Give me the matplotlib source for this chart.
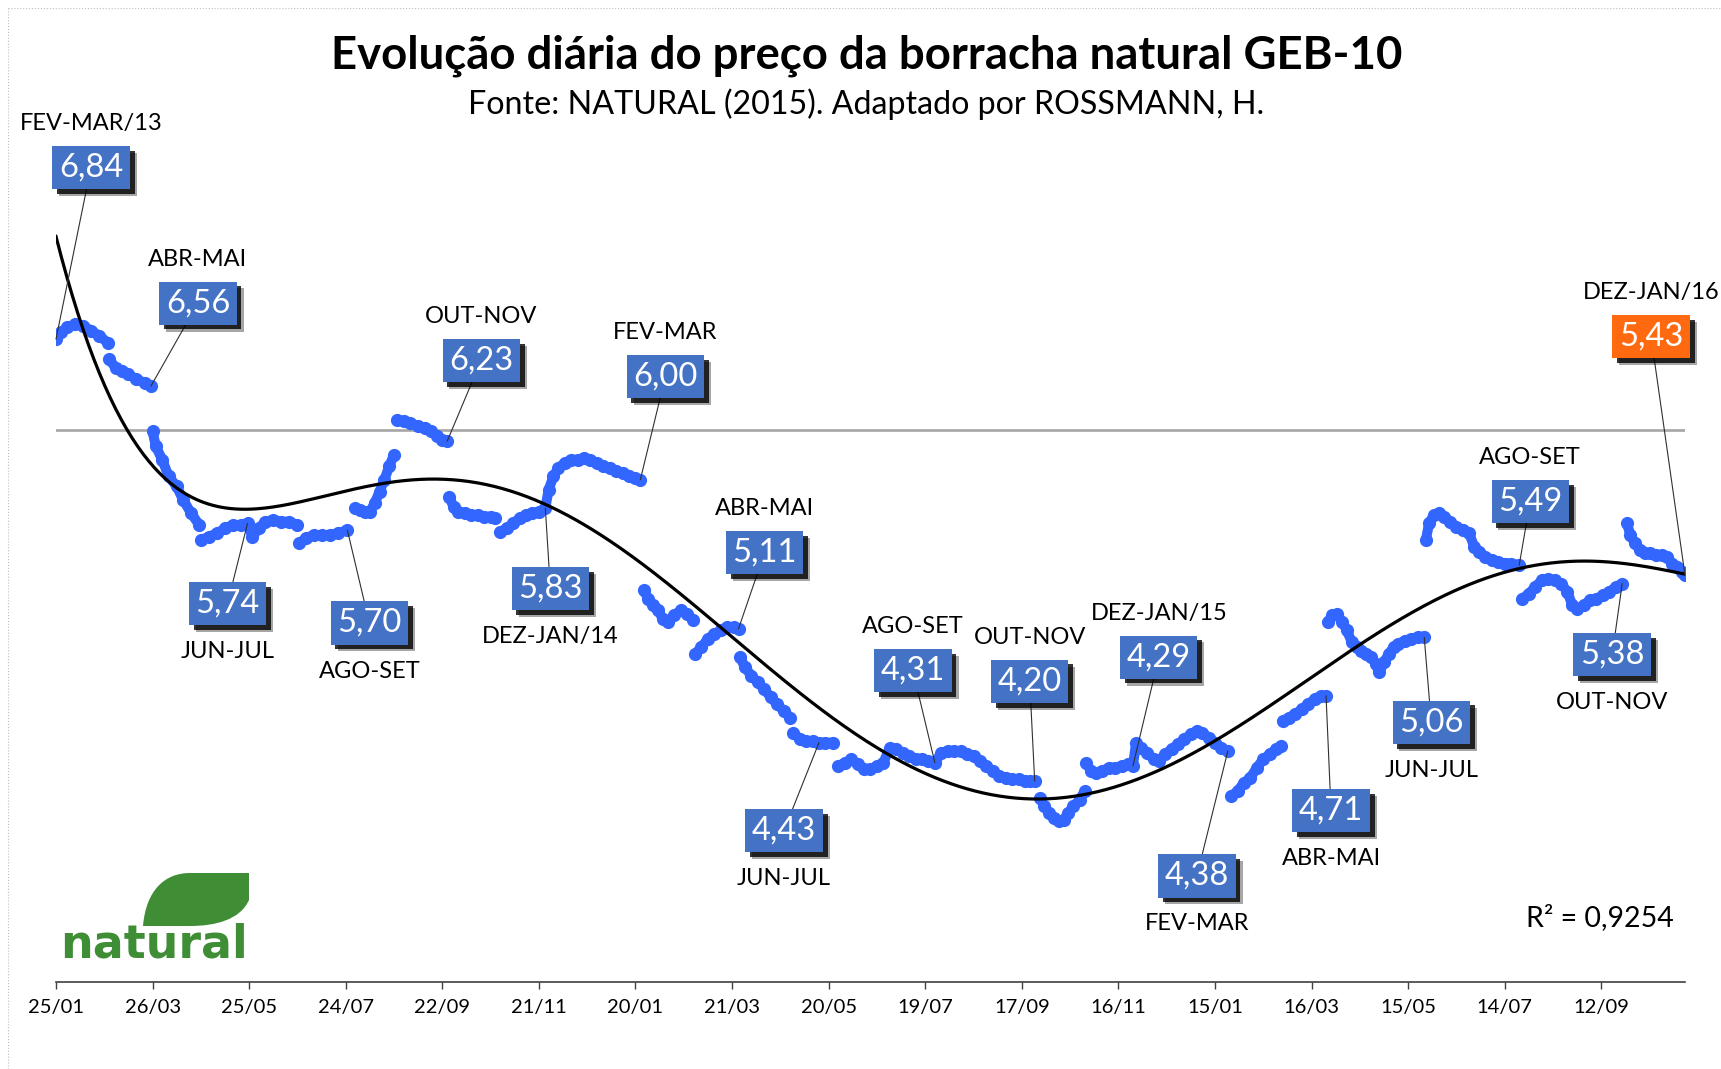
import numpy as np
import matplotlib
matplotlib.use("Agg")
import matplotlib.pyplot as plt
import matplotlib.patheffects as pe
from matplotlib.path import Path
from matplotlib.patches import PathPatch
from matplotlib.lines import Line2D
from matplotlib.ticker import FuncFormatter
import pandas as pd

plt.rcParams['font.family'] = ['Lato', 'DejaVu Sans']

nan = np.nan

# ================= DADOS =================
inicio = pd.Timestamp("2013-01-25")

# dias corridos desde 25/01/2013 (nan separa os trechos de cada contrato)
dias = [0, 3, 7, 12, 17, 22, 27, 32, nan,
        33, 37, 41, 45, 50, 55, 59, nan,
        60, 62, 66, 70, 75, 79, 84, 89, nan,
        90, 95, 100, 105, 110, 115, 119, 122, 126, 130, 135, 140, 145, 150, nan,
        151, 155, 160, 165, 170, 175, 181, nan,
        186, 189, 192, 195, 198, 201, 204, 207, 210, nan,
        212, 216, 220, 225, 229, 233, 237, 240, 243, nan,
        244, 247, 250, 254, 258, 262, 266, 270, 273, nan,
        276, 280, 284, 288, 292, 296, 300, 304, 306, 309, 312, 316, 320, 324,
        328, 332, 336, 340, 344, 348, 352, 356, 360, 363, nan,
        365, 368, 371, 374, 377, 380, 384, 388, 392, 396, nan,
        397, 401, 405, 409, 413, 417, 421, 424, nan,
        425, 428, 432, 436, 440, 444, 448, 452, 456, nan,
        458, 462, 466, 470, 474, 478, 483, nan,
        486, 490, 494, 498, 502, 506, 510, 514, 518, 522, 526, 530, 534, 538,
        542, 546, 550, 554, 558, 562, 566, 570, 574, 578, 582, 586, 590, 594,
        598, 602, 605, 608, nan,
        611, 614, 617, 620, 623, 626, 629, 632, 636, 639, nan,
        640, 643, 646, 650, 654, 658, 662, 666, 669, 671, 674, 678, 682, 685,
        689, 693, 697, 701, 705, 709, 712, 716, 720, 724, 728, nan,
        730, 734, 738, 742, 746, 750, 754, 758, 761, nan,
        762, 766, 770, 774, 778, 782, 786, 789, nan,
        790, 793, 796, 799, 802, 805, 808, 811, 814, 817, 820, 822, 825, 828,
        831, 834, 838, 842, 846, 850, nan,
        851, 853, 856, 859, 862, 866, 870, 874, 878, 881, 884, 888, 892, 896,
        900, 904, 909, nan,
        911, 915, 919, 923, 927, 931, 935, 939, 942, 945, 949, 953, 957, 961,
        965, 969, 973, nan,
        976, 978, 981, 984, 987, 990, 994, 998, 1001, 1004, 1007, 1010, 1012]

precos = [6.84, 6.88, 6.91, 6.93, 6.92, 6.89, 6.86, 6.82, nan,
          6.72, 6.67, 6.65, 6.63, 6.60, 6.58, 6.56, nan,
          6.29, 6.20, 6.12, 6.02, 5.96, 5.88, 5.80, 5.73, nan,
          5.64, 5.66, 5.68, 5.71, 5.73, 5.73, 5.74, 5.66, 5.71, 5.75, 5.76, 5.75, 5.75, 5.73, nan,
          5.62, 5.65, 5.67, 5.67, 5.67, 5.68, 5.70, nan,
          5.83, 5.82, 5.81, 5.81, 5.86, 5.93, 6.00, 6.08, 6.15, nan,
          6.36, 6.35, 6.34, 6.32, 6.31, 6.29, 6.26, 6.24, 6.23, nan,
          5.90, 5.84, 5.81, 5.80, 5.79, 5.79, 5.78, 5.78, 5.77, nan,
          5.69, 5.71, 5.74, 5.77, 5.79, 5.80, 5.81, 5.83, 5.94, 6.02, 6.07, 6.10, 6.12, 6.12,
          6.13, 6.12, 6.10, 6.08, 6.07, 6.05, 6.04, 6.02, 6.01, 6.00, nan,
          5.34, 5.29, 5.25, 5.22, 5.17, 5.15, 5.19, 5.22, 5.20, 5.16, nan,
          4.96, 5.00, 5.05, 5.08, 5.10, 5.12, 5.12, 5.11, nan,
          4.94, 4.88, 4.83, 4.79, 4.75, 4.70, 4.66, 4.62, 4.58, nan,
          4.49, 4.45, 4.44, 4.44, 4.43, 4.43, 4.43, nan,
          4.29, 4.31, 4.33, 4.30, 4.27, 4.27, 4.29, 4.31, 4.40, 4.39, 4.37, 4.35, 4.33, 4.33,
          4.32, 4.31, 4.37, 4.38, 4.38, 4.38, 4.36, 4.35, 4.32, 4.29, 4.26, 4.23, 4.22, 4.21,
          4.21, 4.20, 4.20, 4.20, nan,
          4.10, 4.05, 4.01, 3.98, 3.96, 3.97, 4.01, 4.05, 4.09, 4.14, nan,
          4.31, 4.26, 4.25, 4.26, 4.28, 4.28, 4.29, 4.30, 4.29, 4.43, 4.40, 4.37, 4.33, 4.32,
          4.36, 4.39, 4.42, 4.45, 4.48, 4.50, 4.49, 4.46, 4.43, 4.40, 4.38, nan,
          4.11, 4.14, 4.19, 4.22, 4.28, 4.33, 4.36, 4.39, 4.41, nan,
          4.56, 4.58, 4.60, 4.63, 4.66, 4.69, 4.71, 4.71, nan,
          5.15, 5.19, 5.20, 5.15, 5.10, 5.03, 5.00, 4.98, 4.96, 4.94, 4.90, 4.85, 4.91, 4.96,
          5.00, 5.02, 5.04, 5.05, 5.06, 5.06, nan,
          5.64, 5.74, 5.79, 5.80, 5.78, 5.75, 5.72, 5.70, 5.68, 5.60, 5.57, 5.54, 5.52, 5.51,
          5.50, 5.50, 5.49, nan,
          5.29, 5.32, 5.36, 5.40, 5.41, 5.40, 5.38, 5.33, 5.25, 5.23, 5.25, 5.28, 5.29, 5.31,
          5.33, 5.36, 5.38, nan,
          5.74, 5.67, 5.62, 5.58, 5.56, 5.56, 5.55, 5.55, 5.54, 5.50, 5.48, 5.45, 5.43]

# contratos destacados
contratos = ["FEV-MAR/13", "ABR-MAI", "JUN-JUL", "AGO-SET", "OUT-NOV", "DEZ-JAN/14",
             "FEV-MAR", "ABR-MAI", "JUN-JUL", "AGO-SET", "OUT-NOV", "DEZ-JAN/15",
             "FEV-MAR", "ABR-MAI", "JUN-JUL", "AGO-SET", "OUT-NOV", "DEZ-JAN/16"]
valores = [6.84, 6.56, 5.74, 5.70, 6.23, 5.83, 6.00, 5.11, 4.43,
           4.31, 4.20, 4.29, 4.38, 4.71, 5.06, 5.49, 5.38, 5.43]
dias_rot = [0, 59, 119, 181, 243, 304, 363, 424, 474,
            546, 608, 669, 728, 789, 850, 909, 973, 1012]

linha_ref = 6.30
r2_texto = "R² = 0,9254"
titulo = "Evolução diária do preço da borracha natural GEB-10"
fonte = "Fonte: NATURAL (2015). Adaptado por ROSSMANN, H."

# ================= LAYOUT =================
W, H = 1721, 1069
# posicao das caixas em px relativa ao ponto
desloc = [(35, 172), (47, 83), (-20, -80), (22, -93), (34, 81), (5, -80),
          (25, 103), (26, 76), (-35, -88), (-22, 92), (-5, 100), (26, 109),
          (-31, -125), (5, -115), (7, -85), (11, 64), (-10, -71), (-34, 239)]

AZUL_PONTO = '#3366FF'
AZUL_CAIXA = '#4472C4'
LARANJA = '#FF6A10'
VERDE = '#3F8E36'

fig = plt.figure(figsize=(W / 100, H / 100), dpi=100)
ax = fig.add_axes([56 / W, 87 / H, 1629 / W, 837 / H])

d = np.array(dias, float)
p = np.array(precos, float)

ax.axhline(linha_ref, color='#A6A6A6', lw=1.9, zorder=1)
ax.plot(d, p, color=AZUL_PONTO, lw=7.2, marker='o', ms=9.5, mew=0,
        solid_capstyle='round', solid_joinstyle='round', zorder=3)

# tendencia polinomial (ordem 6)
ok = ~np.isnan(d)
tend = np.polynomial.Polynomial.fit(d[ok], p[ok], 6)
xt = np.linspace(0, d[ok].max(), 600)
ax.plot(xt, tend(xt), color='black', lw=2.3, zorder=4)

ax.set_xlim(0, 1012)
ax.set_ylim(3, 8)
for s in ['left', 'right', 'top']:
    ax.spines[s].set_visible(False)
ax.spines['bottom'].set_color('#404040')
ax.spines['bottom'].set_linewidth(1.2)
ax.set_yticks([])
ax.set_xticks(np.arange(0, 961, 60))
ax.xaxis.set_major_formatter(FuncFormatter(
    lambda v, pos: (inicio + pd.Timedelta(days=int(v))).strftime('%d/%m')))
ax.tick_params(axis='x', direction='out', length=5, width=1, color='#404040',
               labelsize=14.5, pad=7)

# ---- caixas ----
for i, (rot, val, dd) in enumerate(zip(contratos, valores, dias_rot)):
    dx, dy = desloc[i]
    cor = LARANJA if i == len(contratos) - 1 else AZUL_CAIXA
    txt = f"{val:.2f}".replace('.', ',')
    ann = ax.annotate(txt, xy=(dd, val), xytext=(dx, dy), textcoords='offset pixels',
                      ha='center', va='center', color='white', fontsize=23.5,
                      bbox=dict(boxstyle='square,pad=0.2', fc=cor, ec='none'),
                      arrowprops=dict(arrowstyle='-', color='#303030', lw=0.8,
                                      shrinkA=0, shrinkB=0),
                      zorder=6)
    ann.get_bbox_patch().set_path_effects([
        pe.SimplePatchShadow(offset=(5, -5), shadow_rgbFace='black', alpha=0.35),
        pe.SimplePatchShadow(offset=(3.5, -3.5), shadow_rgbFace='black', alpha=0.8),
        pe.Normal()])
    ly = dy + 44 if dy > 0 else dy - 48
    ax.annotate(rot, xy=(dd, val), xytext=(dx, ly), textcoords='offset pixels',
                ha='center', va='center', fontsize=17, color='black', zorder=6)

# ---- textos ----
fig.text(867 / W, 1 - 56 / H, titulo, ha='center', va='center',
         fontsize=32.8, fontweight='bold')
fig.text(866 / W, 1 - 104 / H, fonte, ha='center', va='center', fontsize=23.2)
fig.text(1600 / W, 1 - 918 / H, r2_texto, ha='center', va='center', fontsize=20.5)

# ---- logo ----
def px(x, y):
    return (x / W, 1 - y / H)

folha = Path([px(143, 926), px(146, 890), px(165, 873), px(190, 873),
              px(249, 873), px(249, 900), px(240, 920), px(215, 926),
              px(190, 926), px(143, 926)],
             [Path.MOVETO, Path.CURVE4, Path.CURVE4, Path.CURVE4,
              Path.LINETO, Path.LINETO, Path.CURVE4, Path.CURVE4, Path.CURVE4,
              Path.CLOSEPOLY])
fig.add_artist(PathPatch(folha, transform=fig.transFigure, fc=VERDE, ec='none'))
fig.text(60 / W, 1 - 957 / H, "natural", ha='left', va='baseline',
         fontsize=33, fontweight='bold', color=VERDE, family='DejaVu Sans')

# ---- moldura ----
fig.add_artist(Line2D([8 / W, 8 / W], [0, 1 - 8 / H], transform=fig.transFigure,
                      color='#BFBFBF', lw=0.8, ls=':'))
fig.add_artist(Line2D([8 / W, 1], [1 - 8 / H, 1 - 8 / H], transform=fig.transFigure,
                      color='#BFBFBF', lw=0.8, ls=':'))

fig.savefig('out.png', dpi=100)
